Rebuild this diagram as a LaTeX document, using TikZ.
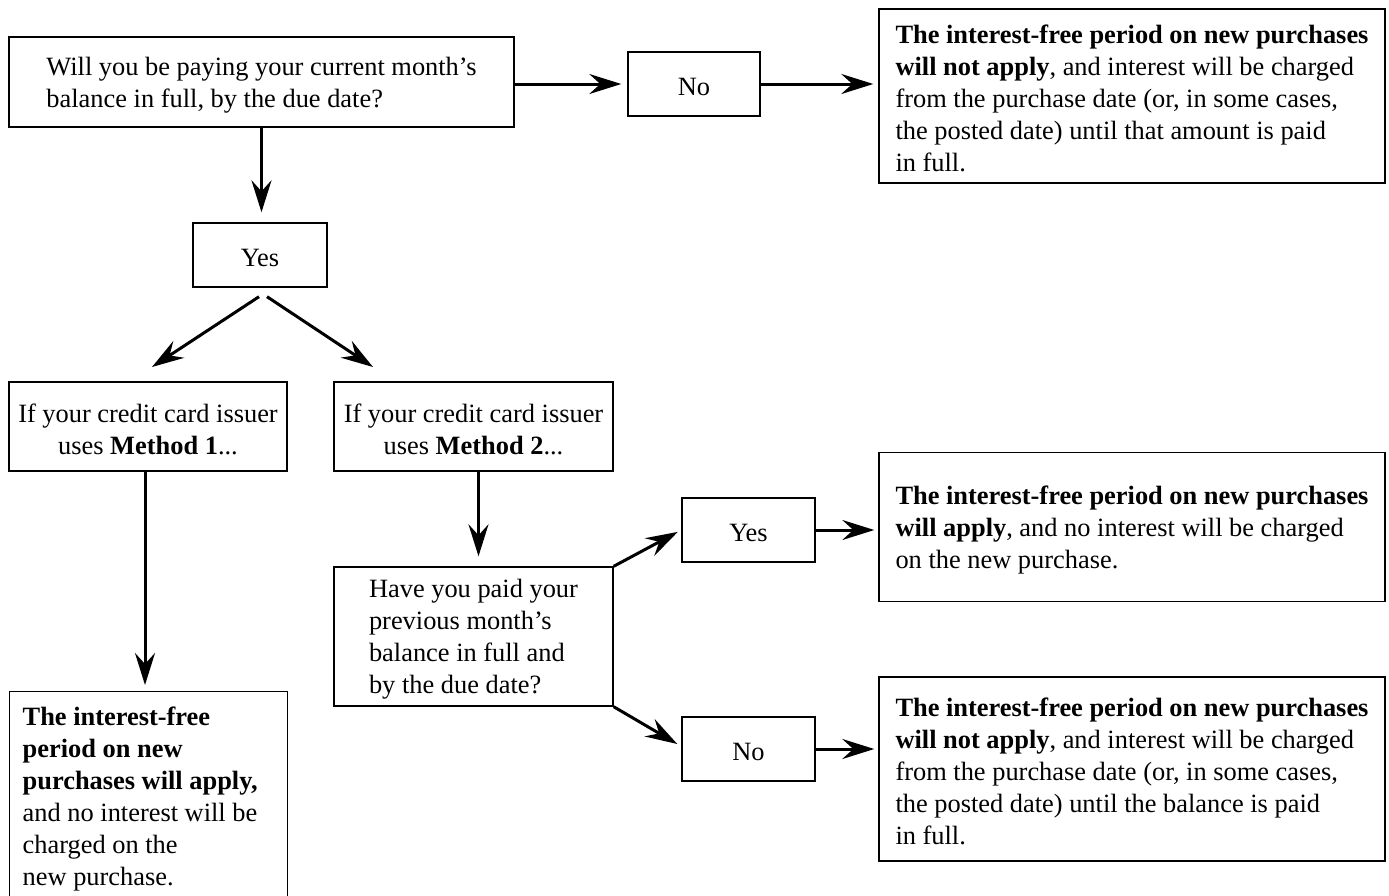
\documentclass[tikz,border=0pt]{standalone}
\usepackage{fontspec}
\setmainfont{Liberation Serif}
\usetikzlibrary{arrows.meta,calc}
\newcommand\tstrut{\rule{0pt}{24pt}}
\begin{document}
\begin{tikzpicture}[x=1pt,y=-1pt,
  box/.style={draw=black, line width=1.4pt, inner sep=0pt, font=\fontsize{26.4}{32}\selectfont},
  arr/.style={line width=3pt, -{Stealth[length=32pt,width=20pt,inset=11pt]}}]
\useasboundingbox (0,0) rectangle (1389,895);
\node[box, minimum width=505pt, minimum height=90pt, align=left] (q1) at (261.5,82)
  {\tstrut Will you be paying your current month’s\\balance in full, by the due date?};
\node[box, minimum width=132pt, minimum height=64pt] (no1) at (694,84) {\tstrut No};
\node[box, minimum width=506pt, minimum height=174pt, align=left] (r1) at (1132,96)
  {\tstrut\textbf{The interest-free period on new purchases}\\\textbf{will not apply}, and interest will be charged\\from the purchase date (or, in some cases,\\the posted date) until that amount is paid\\in full.};
\node[box, minimum width=134pt, minimum height=64pt] (yes1) at (260,255) {\tstrut Yes};
\node[box, minimum width=278pt, minimum height=89pt, align=center] (m1) at (148,426.5)
  {\tstrut If your credit card issuer\\uses \textbf{Method 1}...};
\node[box, minimum width=279pt, minimum height=89pt, align=center] (m2) at (473.5,426.5)
  {\tstrut If your credit card issuer\\uses \textbf{Method 2}...};
\node[box, minimum width=279pt, minimum height=139pt, align=left] (q2) at (473.5,636.5)
  {\tstrut Have you paid your\\previous month’s\\balance in full and\\by the due date?};
\node[box, anchor=north west, align=flush left, inner xsep=13pt, inner ysep=15pt, text width=252pt] (rm1) at (9,691)
  {\textbf{The interest-free}\\\textbf{period on new}\\\textbf{purchases will apply,}\\and no interest will be\\charged on the\\new purchase.};
\node[box, minimum width=133pt, minimum height=64pt] (yes2) at (748.5,530) {\tstrut Yes};
\node[box, minimum width=133pt, minimum height=64pt] (no2) at (748.5,749) {\tstrut No};
\node[box, minimum width=506pt, minimum height=149pt, align=left] (ry) at (1132,527)
  {\tstrut\textbf{The interest-free period on new purchases}\\\textbf{will apply}, and no interest will be charged\\on the new purchase.};
\node[box, minimum width=506pt, minimum height=184pt, align=left] (rn) at (1132,769)
  {\tstrut\textbf{The interest-free period on new purchases}\\\textbf{will not apply}, and interest will be charged\\from the purchase date (or, in some cases,\\the posted date) until the balance is paid\\in full.};
\coordinate (tl) at (152,367);
\coordinate (tr) at (373,367);
\draw[arr, shorten >=6pt] (q1.east |- no1.west) -- (no1.west);
\draw[arr, shorten >=5pt] (no1.east) -- (no1.east -| r1.west);
\draw[arr, shorten >=10pt] (q1.south) -- (q1.south |- yes1.north);
\draw[arr] ($(yes1.south)+(-1,9)$) -- (tl);
\draw[arr] ($(yes1.south)+(7,9)$) -- (tr);
\draw[arr, shorten >=6pt] ([xshift=-3pt]m1.south) -- ([xshift=-3pt]m1.south |- rm1.north);
\draw[arr, shorten >=10pt] ([xshift=5pt]m2.south) -- ([xshift=5pt]m2.south |- q2.north);
\draw[arr, shorten >=4pt] (q2.north east) -- (yes2.west);
\draw[arr] (q2.south east) -- ($(no2.west)+(-4,-5)$);
\draw[arr, shorten >=4pt] (yes2.east) -- (yes2.east -| ry.west);
\draw[arr, shorten >=4pt] (no2.east) -- (no2.east -| rn.west);
\end{tikzpicture}
\end{document}
